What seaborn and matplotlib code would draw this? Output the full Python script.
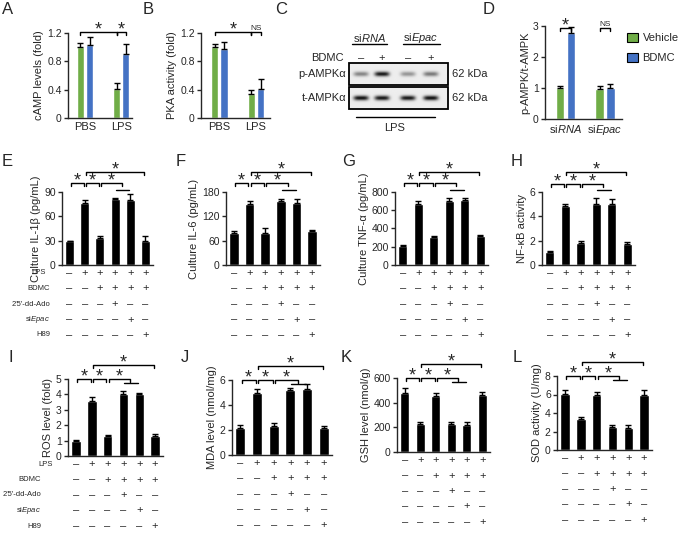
import numpy as np
import pandas as pd
import matplotlib
matplotlib.use("Agg")
import matplotlib.pyplot as plt
import matplotlib.transforms as mtransforms
from matplotlib.patches import Patch, Rectangle
import seaborn as sns

sns.set_style("ticks")
plt.rcParams["font.family"] = ["Liberation Sans", "DejaVu Sans"]
plt.rcParams["mathtext.fontset"] = "custom"
plt.rcParams["mathtext.rm"] = "Liberation Sans"
plt.rcParams["mathtext.it"] = "Liberation Sans:italic"

GREEN, BLUE = "#70ad47", "#4472c4"

# ---------- data: top row (vehicle vs BDMC) ----------
top_groups = ["PBS", "LPS"]
camp_vehicle, camp_vehicle_err = [1.00, 0.41], [0.06, 0.09]
camp_bdmc, camp_bdmc_err = [1.03, 0.91], [0.12, 0.13]
pka_vehicle, pka_vehicle_err = [1.00, 0.34], [0.04, 0.06]
pka_bdmc, pka_bdmc_err = [0.97, 0.41], [0.10, 0.14]
ampk_groups = ["si$\\mathit{RNA}$", "si$\\mathit{Epac}$"]
ampk_vehicle, ampk_vehicle_err = [1.00, 0.97], [0.08, 0.10]
ampk_bdmc, ampk_bdmc_err = [2.78, 1.00], [0.20, 0.12]

# western blot band strength (0 = none, 1 = black)
blot_lanes = ["–", "+", "–", "+"]
p_ampk_bands = [0.45, 0.92, 0.38, 0.5]
t_ampk_bands = [0.95, 0.92, 0.92, 0.95]

# ---------- data: treatment table ----------
table_labels = ["LPS", "BDMC", "2'5'-dd-Ado", "si$\\mathit{Epac}$", "H89"]
lps_row = ["–", "+", "+", "+", "+", "+"]
bdmc_row = ["–", "–", "+", "+", "+", "+"]
ado_row = ["–", "–", "–", "+", "–", "–"]
siepac_row = ["–", "–", "–", "–", "+", "–"]
h89_row = ["–", "–", "–", "–", "–", "+"]
conditions = ["c1", "c2", "c3", "c4", "c5", "c6"]

il1b, il1b_err = [29, 77, 33, 81, 80, 30], [1, 3, 3, 1, 7, 6]
il6, il6_err = [78, 150, 80, 157, 153, 84], [5, 8, 10, 6, 10, 3]
tnfa, tnfa_err = [210, 670, 310, 705, 710, 320], [10, 35, 10, 30, 25, 10]
nfkb, nfkb_err = [1.05, 4.85, 1.8, 5.0, 5.0, 1.7], [0.1, 0.2, 0.2, 0.5, 0.4, 0.2]
ros, ros_err = [1.0, 3.6, 1.3, 4.05, 4.0, 1.3], [0.05, 0.2, 0.07, 0.2, 0.1, 0.15]
mda, mda_err = [2.2, 5.0, 2.3, 5.2, 5.25, 2.2], [0.2, 0.25, 0.3, 0.2, 0.45, 0.1]
gsh, gsh_err = [480, 230, 455, 225, 222, 465], [40, 15, 20, 15, 20, 25]
sod, sod_err = [6.1, 3.3, 5.9, 2.45, 2.4, 6.0], [0.35, 0.25, 0.4, 0.2, 0.25, 0.45]

# ---------- figure ----------
W, H = 685, 535
fig = plt.figure(figsize=(W / 100, H / 100), dpi=100)
ov = fig.add_axes([0, 0, 1, 1])
ov.axis("off")


def add_ax(l, t, r, b):
    return fig.add_axes([l / W, 1 - b / H, (r - l) / W, (b - t) / H])


def finish(ax, ylim, yticks, ylabel):
    ax.set_ylim(*ylim)
    ax.set_yticks(yticks)
    ax.set_ylabel(ylabel, fontsize=8, labelpad=2)
    ax.set_xlabel("")
    sns.despine(ax=ax)
    ax.tick_params(axis="y", labelsize=7.5, length=3, width=1, pad=1.5)
    ax.tick_params(axis="x", length=0, labelsize=8, pad=3)
    for s in ("left", "bottom"):
        ax.spines[s].set_linewidth(1)


def yfrac(ax, px):
    return 1 + px / (ax.get_position().height * H)


def bracket(ax, x0, x1, px, text="*", size=13, drop=3, inset=0.07):
    tr = ax.get_xaxis_transform()
    ax.plot([x0 + inset, x0 + inset, x1 - inset, x1 - inset],
            [yfrac(ax, px - drop), yfrac(ax, px), yfrac(ax, px), yfrac(ax, px - drop)],
            color="black", lw=1, transform=tr, clip_on=False)
    if text == "*":
        ax.text((x0 + x1) / 2, yfrac(ax, px - 2), "*", ha="center", va="baseline",
                fontsize=size, transform=tr)
    else:
        ax.text((x0 + x1) / 2, yfrac(ax, px + 1.5), text, ha="center", va="baseline",
                fontsize=6, transform=tr)


def pair_panel(rect, groups, veh, veh_err, bd, bd_err, ylim, yticks, ylabel, width, xlim):
    ax = add_ax(*rect)
    df = pd.DataFrame({"group": groups * 2,
                       "treatment": ["Vehicle"] * 2 + ["BDMC"] * 2,
                       "value": veh + bd})
    sns.barplot(data=df, x="group", y="value", hue="treatment", palette=[GREEN, BLUE],
                width=width, gap=0.22, saturation=1, errorbar=None, legend=False, ax=ax)
    off = width / 4
    x = np.arange(len(groups))
    ax.errorbar(x - off, veh, yerr=[np.zeros(len(veh)), veh_err], fmt="none",
                ecolor="black", elinewidth=1, capsize=2, capthick=1)
    ax.errorbar(x + off, bd, yerr=[np.zeros(len(bd)), bd_err], fmt="none",
                ecolor="black", elinewidth=1, capsize=2, capthick=1)
    ax.set_xlim(*xlim)
    finish(ax, ylim, yticks, ylabel)
    return ax, off


def black_panel(rect, vals, errs, ylim, yticks, ylabel, lvl1, top, sub):
    ax = add_ax(*rect)
    df = pd.DataFrame({"cond": conditions, "value": vals})
    sns.barplot(data=df, x="cond", y="value", color="black", width=0.6, saturation=1,
                errorbar=None, ax=ax)
    ax.errorbar(np.arange(6), vals, yerr=[np.zeros(6), errs], fmt="none",
                ecolor="black", elinewidth=1, capsize=2.5, capthick=1)
    ax.set_xlim(-0.5, 5.5)
    ax.set_xticks([])
    finish(ax, ylim, yticks, ylabel)
    bracket(ax, 0, 1, lvl1)
    bracket(ax, 1, 2, lvl1)
    bracket(ax, 2, 3.5, lvl1)
    tr = ax.get_xaxis_transform()
    ax.plot([3.05, 3.95], [yfrac(ax, sub)] * 2, color="black", lw=1, transform=tr, clip_on=False)
    bracket(ax, 1, 5, top)
    # treatment signs under the bars
    ftr = mtransforms.blended_transform_factory(ax.transData, fig.transFigure)
    bottom = rect[3]
    for i, row in enumerate([lps_row, bdmc_row, ado_row, siepac_row, h89_row]):
        for j, s in enumerate(row):
            ax.text(j, 1 - (bottom + 8 + 15.5 * i) / H, s, ha="center", va="center",
                    fontsize=8, transform=ftr)
    return ax


def row_labels(x_first, x_rest, bottom):
    for i, lab in enumerate(table_labels):
        x = x_first if i == 0 else x_rest
        fig.text(x / W, 1 - (bottom + 8 + 15.5 * i) / H, lab, ha="right", va="center",
                 fontsize=5.5)


# ---------- A ----------
axA, off = pair_panel((68, 33, 132, 118), top_groups, camp_vehicle, camp_vehicle_err,
                      camp_bdmc, camp_bdmc_err, (0, 1.2), [0, 0.4, 0.8, 1.2],
                      "cAMP levels (fold)", 0.5, (-0.47, 1.3))
axA.set_yticklabels(["0", "0.4", "0.8", "1.2"])
bracket(axA, -off, 1 - off, 1, inset=0)
bracket(axA, 1 - off, 1 + off, 1, inset=0)

# ---------- B ----------
axB, off = pair_panel((201, 33, 270, 118), top_groups, pka_vehicle, pka_vehicle_err,
                      pka_bdmc, pka_bdmc_err, (0, 1.2), [0, 0.4, 0.8, 1.2],
                      "PKA activity (fold)", 0.5, (-0.5, 1.38))
axB.set_yticklabels(["0", "0.4", "0.8", "1.2"])
bracket(axB, -off, 1 - off, 1, inset=0)
bracket(axB, 1 - off, 1 + off, 1, text="NS", inset=0)

# ---------- D ----------
axD, off = pair_panel((545, 26, 622, 119), ampk_groups, ampk_vehicle, ampk_vehicle_err,
                      ampk_bdmc, ampk_bdmc_err, (0, 3), [0, 1, 2, 3],
                      "p-AMPK/t-AMPK", 0.55, (-0.52, 1.43))
bracket(axD, -off, off, -2, inset=0)
bracket(axD, 1 - off, 1 + off, -2, text="NS", inset=0)
axD.legend(handles=[Patch(fc=GREEN, ec="black", lw=0.8, label="Vehicle"),
                    Patch(fc=BLUE, ec="black", lw=0.8, label="BDMC")],
           loc="upper left", bbox_to_anchor=(627 / W, 1 - 33 / H),
           bbox_transform=fig.transFigure, frameon=False, fontsize=8,
           handlelength=1.0, handleheight=0.8, handletextpad=0.4,
           labelspacing=0.9, borderaxespad=0, borderpad=0)

# ---------- C (western blot) ----------
lane_x = [361, 382, 408, 431]
bx0, bx1 = 349, 448
xs = np.linspace(bx0, bx1, 300)
for top, bot, levels in [(63, 85, p_ampk_bands), (87, 109, t_ampk_bands)]:
    ys = np.linspace(top, bot, 70)
    X, Y = np.meshgrid(xs, ys)
    img = np.full(X.shape, 0.93)
    yc = (top + bot) / 2
    for c, v in zip(lane_x, levels):
        img -= v * 0.92 * np.exp(-((X - c) / 7.5) ** 4) * np.exp(-((Y - yc) / 2.4) ** 2)
    ov.imshow(np.clip(img, 0, 1), cmap="gray", vmin=0, vmax=1,
              extent=(bx0, bx1, bot, top), aspect="auto", interpolation="bilinear")
    ov.add_patch(Rectangle((bx0, top), bx1 - bx0, bot - top, fill=False, lw=1.3, ec="black"))
for c, s in zip(lane_x, blot_lanes):
    ov.text(c, 58, s, ha="center", va="center", fontsize=8)
ov.text(344, 58, "BDMC", ha="right", va="center", fontsize=8)
ov.text(346, 74, "p-AMPKα", ha="right", va="center", fontsize=8)
ov.text(346, 98, "t-AMPKα", ha="right", va="center", fontsize=8)
ov.text(452, 74, "62 kDa", ha="left", va="center", fontsize=8)
ov.text(452, 98, "62 kDa", ha="left", va="center", fontsize=8)
ov.text(369, 38, "si$\\mathit{RNA}$", ha="center", va="center", fontsize=8)
ov.text(421, 38, "si$\\mathit{Epac}$", ha="center", va="center", fontsize=8)
ov.plot([352, 387], [44, 44], color="black", lw=1)
ov.plot([403, 440], [44, 44], color="black", lw=1)
ov.plot([356, 435], [117, 117], color="black", lw=1)
ov.text(395, 128, "LPS", ha="center", va="center", fontsize=8)

# ---------- E-H ----------
black_panel((62, 192, 153, 265), il1b, il1b_err, (0, 90), [0, 30, 60, 90],
            "Culture IL-1β (pg/mL)", 9, 20, 2)
black_panel((226, 192, 320, 265), il6, il6_err, (0, 180), [0, 60, 120, 180],
            "Culture IL-6 (pg/mL)", 9, 20, 2)
black_panel((395, 192, 488, 265), tnfa, tnfa_err, (0, 800), [0, 200, 400, 600, 800],
            "Culture TNF-α (pg/mL)", 9, 20, 2)
black_panel((542, 192, 635, 265), nfkb, nfkb_err, (0, 6), [0, 2, 4, 6],
            "NF-κB activity", 8, 20, 2)
row_labels(46, 50, 265)

# ---------- I-L ----------
black_panel((68, 379, 163, 456), ros, ros_err, (0, 5), [0, 1, 2, 3, 4, 5],
            "ROS level (fold)", 0, 14, -4)
black_panel((232, 380, 332, 455), mda, mda_err, (0, 6), [0, 2, 4, 6],
            "MDA level (nmol/mg)", 0, 14, -4)
black_panel((397, 378, 490, 452), gsh, gsh_err, (0, 600), [0, 200, 400, 600],
            "GSH level (nmol/g)", 0, 14, -4)
black_panel((557, 376, 652, 450), sod, sod_err, (0, 8), [0, 2, 4, 6, 8],
            "SOD activity (U/mg)", 0, 14, -4)
row_labels(53, 41, 456)

# ---------- panel letters ----------
for letter, x, y in [("A", 2, 10), ("B", 143, 10), ("C", 275, 10), ("D", 483, 10),
                     ("E", 2, 161), ("F", 176, 161), ("G", 342, 161), ("H", 511, 161),
                     ("I", 8, 357), ("J", 181, 357), ("K", 341, 357), ("L", 513, 357)]:
    ov.text(x, y, letter, ha="left", va="center", fontsize=12)

ov.set_xlim(0, W)
ov.set_ylim(H, 0)
fig.savefig("out.png", dpi=100, facecolor="white")
